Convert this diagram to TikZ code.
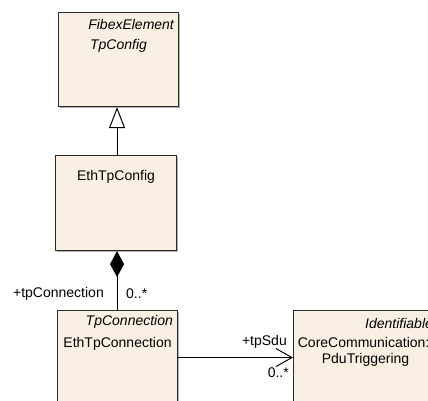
\documentclass[tikz,border=0pt]{standalone}
\usepackage{fontspec}
\setmainfont{Liberation Sans}
\usepackage{tikz}
\usetikzlibrary{arrows.meta,positioning,shadows}
\definecolor{UmlFill}{HTML}{F8EFE2}
\definecolor{UmlLine}{HTML}{2B2B2B}
\tikzset{
  classbox/.style={draw=UmlLine,fill=UmlFill,line width=1.1pt,rectangle,inner sep=0pt,anchor=north west,minimum width=120pt,minimum height=94pt,
    drop shadow={shadow xshift=1.2pt,shadow yshift=-1.2pt,fill=black!45,opacity=0.7}},
  classname/.style={font=\fontsize{14}{16}\selectfont,inner sep=0pt,align=center},
  stereo/.style={font=\fontsize{14}{16}\selectfont\itshape,inner sep=0pt,anchor=east},
  rolelabel/.style={font=\fontsize{14}{16}\selectfont,inner sep=0pt},
  generalize/.style={-{Triangle[open,length=21pt,width=16pt,line width=1pt]},line width=1pt,draw=black},
  compose/.style={-{Diamond[length=26pt,width=14pt]},line width=1pt,draw=black},
  assoc/.style={-{Straight Barb[length=16pt,width=18pt,line width=1pt]},line width=1pt,draw=black}
}
\begin{document}
\begin{tikzpicture}[x=1pt,y=-1pt]
\clip (0,0) rectangle (428,401);
\useasboundingbox (0,0) rectangle (428,401);
\node[classbox] (tpconfig) at (58,12) {};
\node[stereo] (tpconfigst) at ([xshift=-5pt,yshift=-12pt]tpconfig.north east) {FibexElement};
\node[classname,font=\fontsize{14}{16}\selectfont\itshape] (tpconfignm) at ([yshift=-34pt]tpconfig.north) {TpConfig};
\node[classbox,minimum width=121pt,minimum height=95pt] (ethconfig) at (55,155) {};
\node[classname] (ethconfignm) at ([yshift=-22pt]ethconfig.north) {EthTpConfig};
\node[classbox] (ethconn) at (57,310) {};
\node[stereo] (ethconnst) at ([xshift=-5pt,yshift=-12pt]ethconn.north east) {TpConnection};
\node[classname] (ethconnnm) at ([yshift=-34pt]ethconn.north) {EthTpConnection};
\node[classbox,minimum width=144pt] (pdutrig) at (293,310) {};
\node[stereo] (pdutrigst) at ([xshift=-5pt,yshift=-13pt]pdutrig.north east) {Identifiable};
\node[classname] (pdutrignm) at ([yshift=-42pt]pdutrig.north) {CoreCommunication::\\PduTriggering};
% relations
\draw[generalize] ([xshift=1pt]ethconfig.north) -- ([xshift=1pt]ethconfig.north |- tpconfig.south);
\draw[compose] ([xshift=1pt]ethconfig.south |- ethconn.north) -- ([xshift=1pt]ethconfig.south);
\draw[assoc] (ethconn.east) -- (pdutrig.west);
\node[rolelabel,anchor=east] (connrole) at (104,294) {+tpConnection};
\node[rolelabel,anchor=west] (connmult) at (126,294) {0..*};
\node[rolelabel,anchor=east] (sdurole) at (287,342) {+tpSdu};
\node[rolelabel,anchor=east] (sdumult) at (289,373) {0..*};
\end{tikzpicture}
\end{document}
